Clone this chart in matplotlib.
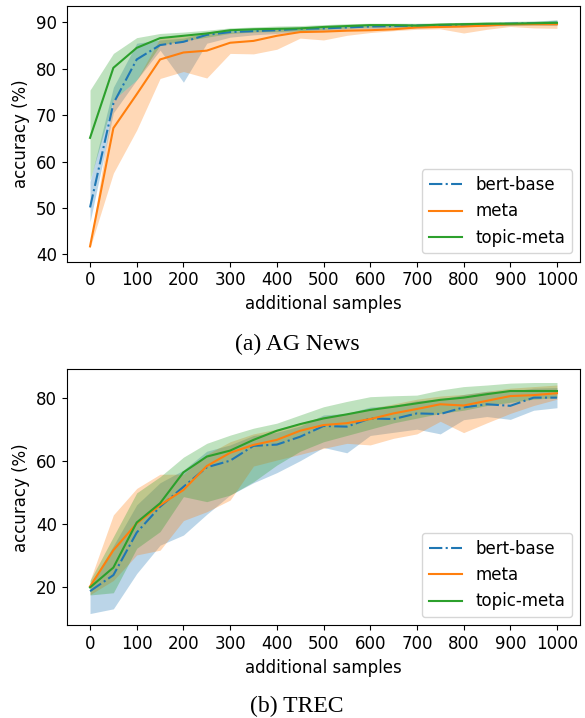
import numpy as np
import matplotlib
matplotlib.use("Agg")
import matplotlib.pyplot as plt

# x axis: number of additional samples
samples = np.arange(0, 1001, 50)

# (a) AG News: mean accuracy and shaded range
ag_bert = [50.1, 72.5, 82.0, 85.1, 85.8, 87.3, 87.9, 88.1, 88.3, 88.6, 88.7,
           88.9, 89.1, 89.2, 89.3, 89.4, 89.5, 89.6, 89.7, 89.8, 89.9]
ag_bert_lo = [47.0, 70.5, 77.6, 84.0, 77.1, 85.5, 86.8, 87.3, 87.6, 88.0, 88.2,
              88.5, 88.6, 88.8, 88.8, 89.0, 89.1, 89.2, 89.3, 89.4, 89.3]
ag_bert_hi = [55.7, 76.0, 85.5, 86.2, 86.6, 87.9, 88.4, 88.7, 88.8, 89.0, 89.1,
              89.3, 89.4, 89.6, 89.7, 89.8, 89.9, 90.0, 90.1, 90.2, 90.5]

ag_meta = [41.7, 67.2, 74.5, 82.0, 83.5, 83.9, 85.6, 86.0, 87.1, 87.9, 88.0,
           88.2, 88.3, 88.5, 88.9, 89.0, 89.1, 89.3, 89.6, 89.6, 89.6]
ag_meta_lo = [41.4, 57.5, 66.8, 77.9, 79.4, 78.0, 83.3, 83.2, 84.2, 86.6, 86.2,
              87.2, 87.8, 88.2, 88.5, 88.6, 87.7, 88.5, 89.1, 88.8, 88.7]
ag_meta_hi = [42.0, 73.3, 77.6, 86.6, 87.0, 87.5, 87.9, 88.2, 88.5, 88.7, 88.8,
              89.0, 89.1, 89.2, 89.4, 89.5, 89.6, 89.8, 89.9, 90.0, 90.0]

ag_topic = [65.1, 80.2, 84.5, 86.6, 87.1, 87.6, 88.3, 88.5, 88.6, 88.7, 89.0,
            89.2, 89.4, 89.4, 89.3, 89.5, 89.6, 89.7, 89.7, 89.8, 89.9]
ag_topic_lo = [56.0, 73.3, 77.6, 85.1, 86.0, 86.8, 87.6, 87.9, 88.0, 88.2, 88.5,
               88.8, 89.0, 89.0, 88.9, 89.1, 89.2, 89.3, 89.4, 89.5, 89.5]
ag_topic_hi = [75.4, 83.3, 86.7, 87.6, 87.9, 88.3, 88.8, 89.0, 89.2, 89.3, 89.5,
               89.7, 89.8, 89.8, 89.8, 89.9, 90.0, 90.1, 90.2, 90.3, 90.5]

# (b) TREC
trec_bert = [18.6, 23.7, 37.2, 45.4, 51.7, 57.9, 60.0, 64.7, 65.1, 67.6, 71.0,
             70.8, 73.4, 73.2, 75.0, 74.8, 76.9, 77.9, 77.4, 80.0, 80.0]
trec_bert_lo = [11.5, 13.0, 24.2, 33.2, 36.4, 43.0, 49.1, 53.0, 56.2, 60.0, 64.2,
                62.5, 68.0, 69.0, 70.0, 68.5, 73.0, 74.0, 73.1, 76.0, 76.8]
trec_bert_hi = [20.5, 33.0, 46.0, 53.0, 57.0, 63.0, 65.0, 68.0, 69.0, 71.0, 74.5,
                75.0, 77.0, 77.5, 79.0, 79.5, 81.0, 82.0, 82.0, 83.0, 83.2]

trec_meta = [20.1, 31.6, 40.1, 45.9, 50.7, 58.3, 62.5, 65.0, 66.6, 69.5, 71.3,
             71.9, 73.2, 75.0, 76.4, 77.9, 77.5, 79.0, 80.5, 80.8, 81.4]
trec_meta_lo = [17.5, 22.0, 30.1, 31.6, 41.0, 43.8, 47.5, 58.3, 60.2, 62.0, 63.9,
                65.5, 65.0, 67.1, 68.5, 72.5, 68.9, 72.0, 75.0, 77.5, 79.5]
trec_meta_hi = [22.0, 42.8, 51.2, 55.7, 55.7, 62.0, 66.0, 68.5, 70.0, 72.0, 74.0,
                75.0, 76.5, 78.0, 79.5, 80.5, 81.0, 82.0, 83.0, 83.5, 84.0]

trec_topic = [19.8, 26.1, 40.4, 46.5, 56.3, 61.3, 63.2, 66.6, 69.5, 71.6, 73.4,
              74.7, 76.1, 77.1, 78.2, 79.3, 80.0, 81.1, 82.1, 82.1, 82.1]
trec_topic_lo = [17.4, 18.1, 32.2, 37.5, 48.6, 47.0, 49.1, 53.3, 58.6, 63.0, 66.0,
                 68.0, 70.0, 72.0, 73.5, 75.0, 76.0, 77.5, 78.5, 79.5, 80.0]
trec_topic_hi = [22.0, 35.9, 49.8, 54.9, 61.1, 65.5, 68.1, 70.3, 71.9, 74.5, 77.1,
                 78.8, 80.3, 80.6, 80.8, 82.4, 83.5, 84.0, 84.6, 84.8, 84.8]

labels = ["bert-base", "meta", "topic-meta"]
colors = ["#1f77b4", "#ff7f0e", "#2ca02c"]
styles = ["-.", "-", "-"]

plt.rcParams["font.size"] = 12

fig = plt.figure(figsize=(5.85, 7.18), dpi=100)
ax1 = fig.add_axes([0.114, 0.6355, 0.878, 0.356])
ax2 = fig.add_axes([0.114, 0.129, 0.878, 0.3567])


def draw(ax, series, ylim):
    for (mean, lo, hi), lab, c, ls in zip(series, labels, colors, styles):
        ax.fill_between(samples, lo, hi, color=c, alpha=0.3, linewidth=0)
        ax.plot(samples, mean, color=c, linestyle=ls, label=lab)
    ax.set_xticks(np.arange(0, 1001, 100))
    ax.set_xlim(-50, 1050)
    ax.set_ylim(*ylim)
    ax.set_xlabel("additional samples")
    ax.set_ylabel("accuracy (%)")
    ax.legend(loc="lower right")


draw(ax1, [(ag_bert, ag_bert_lo, ag_bert_hi),
           (ag_meta, ag_meta_lo, ag_meta_hi),
           (ag_topic, ag_topic_lo, ag_topic_hi)], (38.4, 93.5))
draw(ax2, [(trec_bert, trec_bert_lo, trec_bert_hi),
           (trec_meta, trec_meta_lo, trec_meta_hi),
           (trec_topic, trec_topic_lo, trec_topic_hi)], (7.75, 89.0))

fig.text(0.508, 1 - 344 / 718, "(a) AG News", family="Liberation Serif",
         fontsize=17, ha="center", va="center")
fig.text(0.508, 1 - 706 / 718, "(b) TREC", family="Liberation Serif",
         fontsize=17, ha="center", va="center")

fig.savefig("out.png", dpi=100)
